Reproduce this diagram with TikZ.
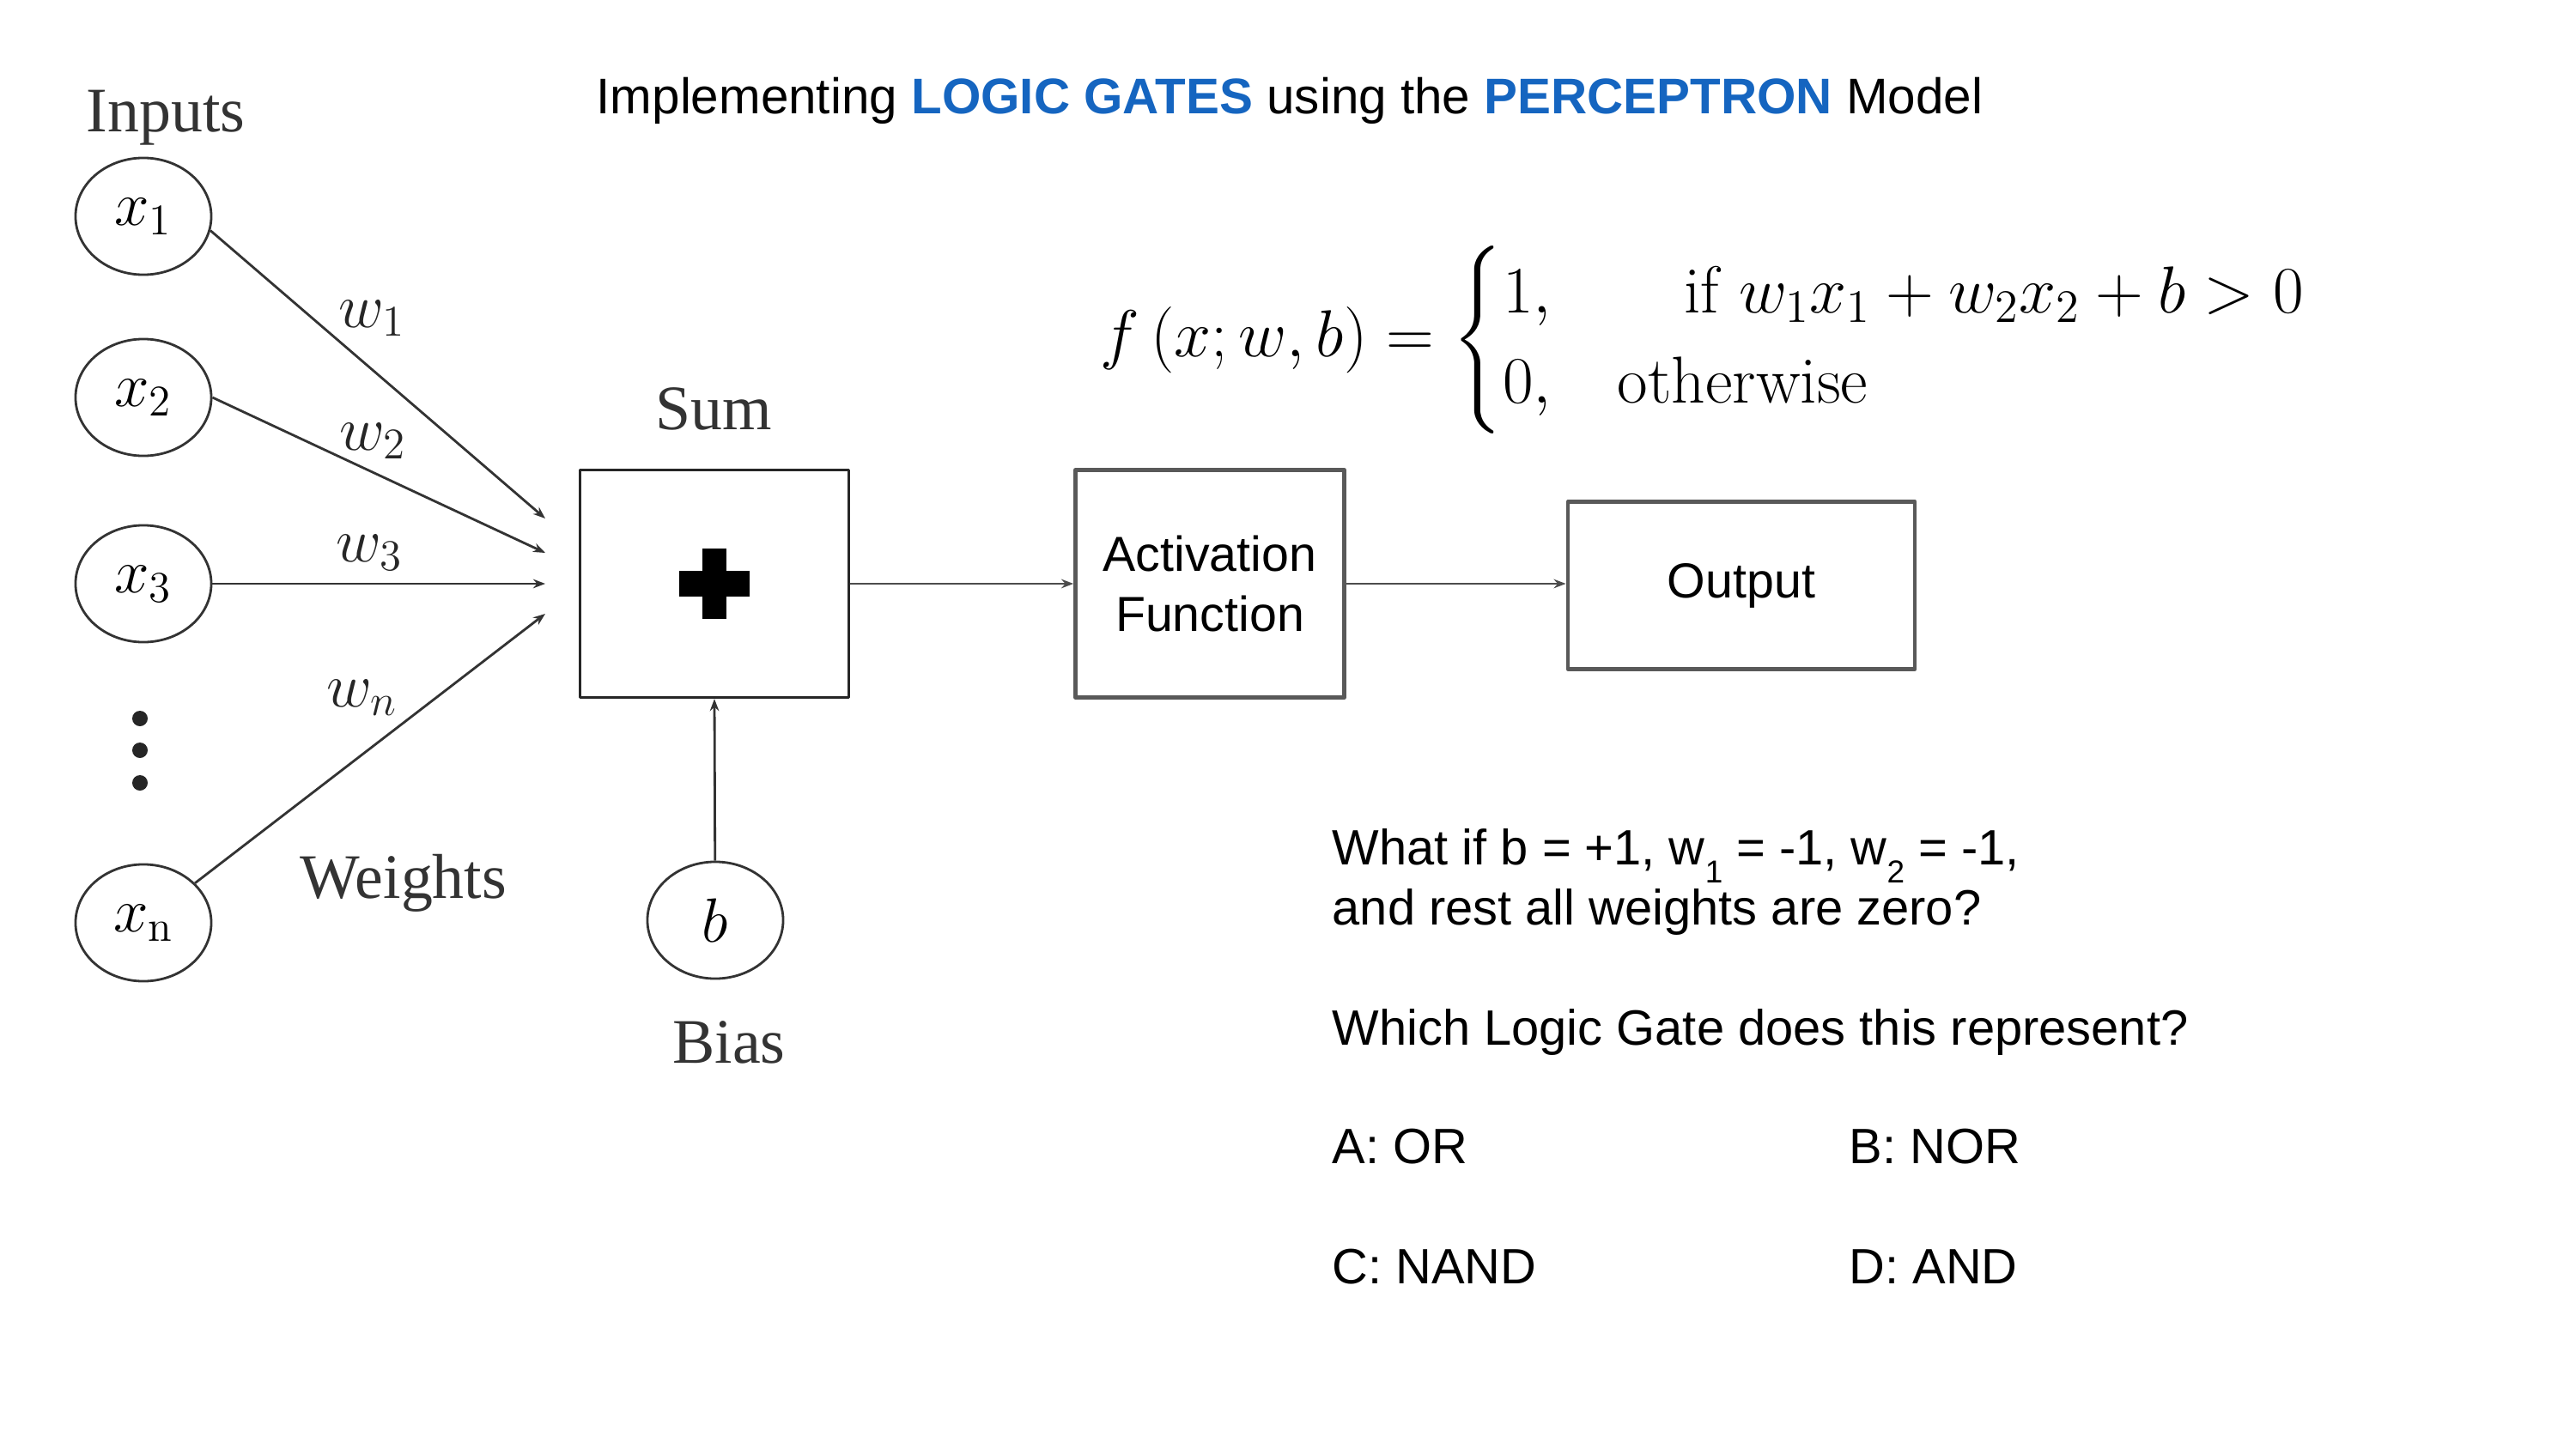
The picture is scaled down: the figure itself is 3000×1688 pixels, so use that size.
\RequirePackage{fix-cm}
\documentclass[tikz,border=0pt]{standalone}
\usepackage{amsmath}
\usepackage{fontspec}
\setsansfont{Liberation Sans}
\newfontfamily\labfont{Liberation Serif}
\usetikzlibrary{shapes.geometric,arrows.meta}
\definecolor{titleblue}{RGB}{21,101,192}
\begin{document}
\begin{tikzpicture}[x=0.01cm, y=-0.01cm, line join=round, >={Stealth[length=4pt,width=3pt]},
	inp/.style={draw=black!80, line width=0.8pt, ellipse, minimum width=1.58cm, minimum height=1.36cm, inner sep=0pt, font=\fontsize{20.7}{24}\selectfont},
	lbl/.style={anchor=base, inner sep=0pt, text=black!80, font=\labfont\fontsize{21}{25}\selectfont},
	wlbl/.style={anchor=base, inner sep=0pt, text=black!85, font=\fontsize{20.7}{24}\selectfont},
	sumbox/.style={draw=black!85, line width=0.9pt, minimum width=3.13cm, minimum height=2.65cm, inner sep=0pt},
	graybox/.style={draw=black!65, line width=1.3pt, inner sep=0pt, align=center, font=\sffamily\fontsize{16.3}{19.9}\selectfont},
	conn/.style={draw=black!80, line width=0.8pt, ->},
	qtext/.style={anchor=base west, inner sep=0pt, font=\sffamily\fontsize{16.45}{19.9}\selectfont}]
	%%Khung hình
	\useasboundingbox (0,0) rectangle (3000,1688);
	\def \xin{167}
	\def \xend{635}
	%%Tiêu đề
	\node[anchor=base west, inner sep=0pt, font=\sffamily\fontsize{16.6}{20}\selectfont] (title) at (694,133)
	{Implementing \textcolor{titleblue}{\bfseries LOGIC GATES} using the \textcolor{titleblue}{\bfseries PERCEPTRON} Model};
	%%Các đầu vào
	\node[lbl] (inputs) at (193,153) {Inputs};
	\foreach \i/\y/\lab in {1/252/x_1, 2/463/x_2, 3/680/x_3, n/1075/x_{\mathrm{n}}}
	\node[inp] (x\i) at (\xin,\y) {$\lab$};
	\foreach \y in {837,874,912}
	\fill[black!85] (163,\y) circle(0.09cm);
	%%Trọng số
	\foreach \i/\y in {1/604, 2/644, 3/680, n/715}
	\coordinate (e\i) at (\xend,\y);
	\draw[conn] (x1.-12)--(e1);
	\draw[conn] (x2.east)--(e2);
	\draw[conn] (x3.east)--(e3);
	\draw[conn] (xn)--(en);
	\foreach \i/\x/\y in {1/433/381, 2/434/524, 3/430/654, n/422/823}
	\node[wlbl] (w\i) at (\x,\y) {$w_\i$};
	\node[lbl] (weights) at (470,1046) {Weights};
	%%Tổng và độ lệch
	\node[sumbox] (sum) at (832,680) {};
	\node[lbl] (sumlab) at (831,500) {Sum};
	\fill[black] ([xshift=-0.41cm,yshift=-0.15cm]sum.center) rectangle ([xshift=0.41cm,yshift=0.15cm]sum.center);
	\fill[black] ([xshift=-0.14cm,yshift=-0.41cm]sum.center) rectangle ([xshift=0.14cm,yshift=0.41cm]sum.center);
	\node[inp] (b) at (833,1072) {$b$};
	\node[lbl] (bias) at (849,1238) {Bias};
	\draw[conn] (b)--(sum.south);
	%%Hàm kích hoạt và đầu ra
	\node[graybox, minimum width=3.13cm, minimum height=2.65cm] (act) at (1409,680) {Activation\\Function};
	\node[graybox, minimum width=4.04cm, minimum height=1.95cm] (out) at (2028,682) {Output};
	\draw[conn, draw=black!70] (sum.east)--(act.west);
	\draw[conn, draw=black!70] (act.east)--(act.east-|out.west);
	%%Công thức
	\node[anchor=west, inner sep=0pt, font=\fontsize{22}{25}\selectfont] (fx) at (1281,396)
	{$f\left(x;w,b\right)=\begin{cases}1, & \quad\text{if } w_1x_1+w_2x_2+b>0\\ 0, & \text{otherwise}\end{cases}$};
	%%Câu hỏi
	\node[qtext] (q1) at (1551,1007) {What if b = +1, w\raisebox{-6pt}{\fontsize{10.5}{12}\selectfont 1} = -1, w\raisebox{-6pt}{\fontsize{10.5}{12}\selectfont 2} = -1,};
	\node[qtext] (q2) at (1551,1077) {and rest all weights are zero?};
	\node[qtext] (q3) at (1551,1217) {Which Logic Gate does this represent?};
	\node[qtext] (optA) at (1551,1355) {A: OR};
	\node[qtext] (optB) at (2153,1355) {B: NOR};
	\node[qtext] (optC) at (1551,1495) {C: NAND};
	\node[qtext] (optD) at (2153,1495) {D: AND};
\end{tikzpicture}
\end{document}
